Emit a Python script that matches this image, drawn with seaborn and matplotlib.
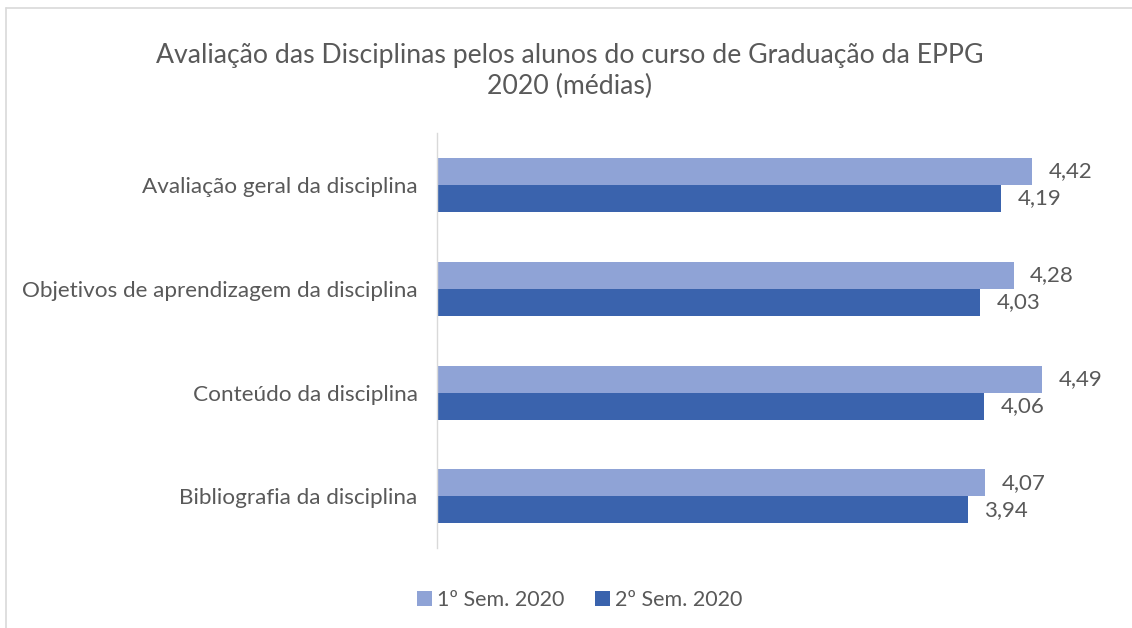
import pandas as pd
import matplotlib
matplotlib.use('Agg')
import matplotlib.pyplot as plt
import seaborn as sns

# data
categories = ['Avaliação geral da disciplina',
              'Objetivos de aprendizagem da disciplina',
              'Conteúdo da disciplina',
              'Bibliografia da disciplina']
sem1 = [4.42, 4.28, 4.49, 4.07]
sem2 = [4.19, 4.03, 4.06, 3.94]
series_names = ['1º Sem. 2020', '2º Sem. 2020']
colors = ['#8FA3D6', '#3A63AD']

df = pd.DataFrame({
    'categoria': categories * 2,
    'media': sem1 + sem2,
    'semestre': [series_names[0]] * 4 + [series_names[1]] * 4,
})

sns.set_style('white')
plt.rcParams['font.family'] = ['Lato', 'DejaVu Sans']
grey = '#595959'

fig = plt.figure(figsize=(11.32, 6.28), dpi=100)
ax = fig.add_axes([0.386, 0.127, 0.595, 0.661])

sns.barplot(data=df, x='media', y='categoria', hue='semestre', orient='h',
            palette=colors, width=0.52, saturation=1, linewidth=0,
            ax=ax, legend=True)

for cont in ax.containers:
    ax.bar_label(cont, labels=[f'{v:.2f}'.replace('.', ',') for v in cont.datavalues],
                 padding=12, fontsize=16, color=grey)

ax.set_xlim(0, 5)
ax.set_ylim(3.5, -0.5)
ax.set_xlabel('')
ax.set_ylabel('')
ax.set_xticks([])
ax.tick_params(axis='y', length=0, pad=14, labelsize=16.2, labelcolor=grey)
for s in ['top', 'right', 'bottom']:
    ax.spines[s].set_visible(False)
ax.spines['left'].set_color('#D9D9D9')
ax.spines['left'].set_linewidth(1)

fig.suptitle('Avaliação das Disciplinas pelos alunos do curso de Graduação da EPPG\n2020 (médias)',
             x=0.503, y=0.932, fontsize=19.2, color=grey, linespacing=1.3)

handles, labels = ax.get_legend_handles_labels()
ax.get_legend().remove()
fig.legend(handles, labels, loc='center', bbox_to_anchor=(0.512, 0.044), ncol=2,
           frameon=False, fontsize=15.5, labelcolor=grey, handlelength=0.7,
           handleheight=0.7, handletextpad=0.25, columnspacing=1.4)

# light frame around the chart area
fig.add_artist(plt.Line2D([0.005, 0.005], [0, 0.987], color='#D9D9D9', lw=1.2))
fig.add_artist(plt.Line2D([0.005, 1], [0.987, 0.987], color='#D9D9D9', lw=1.2))

fig.savefig('out.png', dpi=100)
